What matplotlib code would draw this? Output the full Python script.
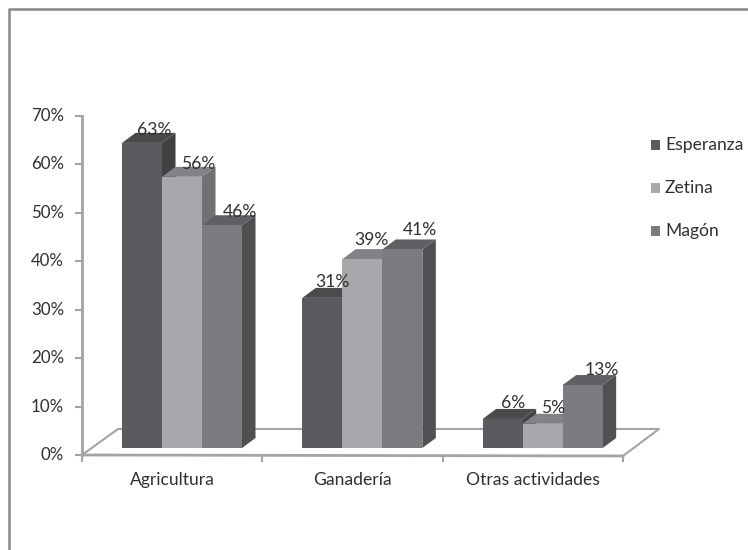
import matplotlib
matplotlib.use("Agg")
import matplotlib.pyplot as plt
from matplotlib.patches import Polygon, Rectangle

plt.rcParams["font.family"] = ["Lato", "DejaVu Sans"]

categories = ["Agricultura", "Ganadería", "Otras actividades"]
series_names = ["Esperanza", "Zetina", "Magón"]
esperanza = [63, 31, 6]
zetina = [56, 39, 5]
magon = [46, 41, 13]
y_ticks = [0, 10, 20, 30, 40, 50, 60, 70]

# front, top and side shades for each series
front_colors = ["#5a5b5e", "#a6a8ab", "#7a7c7f"]
top_colors = ["#4a4b4d", "#818386", "#5f6063"]
side_colors = ["#404143", "#707174", "#4f5052"]

W, H = 748, 550
AX_LEFT, AX_RIGHT, AX_BOTTOM, AX_TOP = 82, 623, 455, 116
FONT = 12.6
TEXT = "#303030"

fig = plt.figure(figsize=(W / 100, H / 100), dpi=100)
ax = fig.add_axes([AX_LEFT / W, 1 - AX_BOTTOM / H, (AX_RIGHT - AX_LEFT) / W, (AX_BOTTOM - AX_TOP) / H])
ax.set_xlim(0, 3)
ax.set_ylim(0, 70)
ax.axis("off")

px_x = 3 / (AX_RIGHT - AX_LEFT)
px_y = 70 / (AX_BOTTOM - AX_TOP)
depth_x = 13.5 * px_x
depth_y = 10 * px_y
base = 7 * px_y  # bars stand a little inside the floor
bar_w = 40 * px_x
group_start = 40 * px_x

gray = "#a3a4a6"

# floor of the 3d box
floor_dx = 36 * px_x
floor_dy = 26 * px_y
ax.plot([0, floor_dx, 3 + floor_dx, 3], [0, floor_dy, floor_dy, -0.2], color=gray, lw=1.5, clip_on=False, zorder=1)
ax.plot([0, 3], [0, -0.2], color=gray, lw=2, clip_on=False, zorder=1)

# value axis and ticks
ax.plot([0, 0], [0, 70], color=gray, lw=2, clip_on=False, zorder=1)
for t in y_ticks:
    ax.plot([-6 * px_x, 0], [t, t], color=gray, lw=1.5, clip_on=False, zorder=1)
    ax.text(-18 * px_x, t, f"{t}%", ha="right", va="center", fontsize=12.2, color=TEXT)
for i in range(4):
    ax.plot([i, i], [-0.15, -1.2], color=gray, lw=1.5, clip_on=False, zorder=1)

for i, cat in enumerate(categories):
    ax.text(i + 0.5, -5.2, cat, ha="center", va="center", fontsize=FONT, color=TEXT)

# bars, drawn left to right so each one covers the side of the previous
series = [esperanza, zetina, magon]
label_dx = [[12, 16, 18], [10, 9, 18], [10, 10, 19]]
label_dy = [[13, 13, 13], [16, 19, 19], [16, 16, 15]]
for g in range(3):
    for s in range(3):
        v = series[s][g]
        x0 = g + group_start + s * bar_w
        x1 = x0 + bar_w
        top = base + v
        z = 3 + g * 3 + s
        ax.add_patch(Polygon([(x1, base), (x1 + depth_x, base + depth_y), (x1 + depth_x, top + depth_y), (x1, top)],
                             fc=side_colors[s], ec="none", clip_on=False, zorder=z))
        ax.add_patch(Polygon([(x0, top), (x0 + depth_x, top + depth_y), (x1 + depth_x, top + depth_y), (x1, top)],
                             fc=top_colors[s], ec="none", clip_on=False, zorder=z))
        ax.bar(x0, v, bar_w, bottom=base, align="edge", color=front_colors[s], clip_on=False, zorder=z)

# value labels sit above the bars
for g in range(3):
    for s in range(3):
        v = series[s][g]
        xc = g + group_start + (s + 0.5) * bar_w + label_dx[g][s] * px_x
        yc = base + v + label_dy[g][s] * px_y
        ax.text(xc, yc, f"{v}%", ha="center", va="center", fontsize=FONT, color=TEXT, zorder=30)

# legend
for i, name in enumerate(series_names):
    y_px = 145 + i * 43
    fig.add_artist(Rectangle((651 / W, 1 - (y_px + 5) / H), 9 / W, 10 / H, transform=fig.transFigure,
                             fc=front_colors[i], ec="none"))
    fig.text(665 / W, 1 - y_px / H, name, ha="left", va="center", fontsize=FONT, color=TEXT)

# outer frame of the chart area
frame = "#868789"
fig.add_artist(plt.Line2D([9 / W, 9 / W, 1], [0, 1 - 9 / H, 1 - 9 / H], transform=fig.transFigure, color=frame, lw=1.8))

fig.savefig("out.png", dpi=100)
